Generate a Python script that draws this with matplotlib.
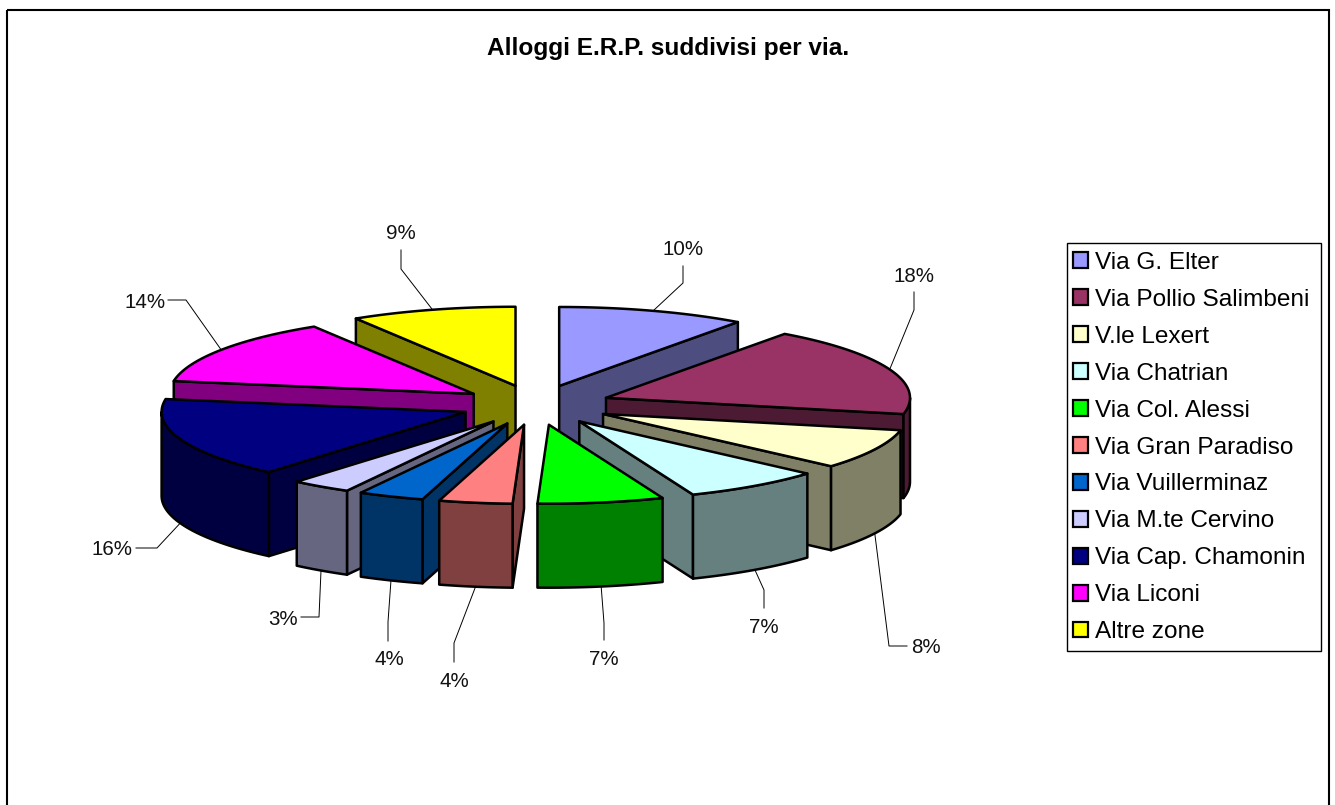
import numpy as np
import matplotlib
matplotlib.use("Agg")
import matplotlib.pyplot as plt
from matplotlib.patches import Patch, Polygon, Rectangle

plt.rcParams['font.family'] = ['Liberation Sans', 'DejaVu Sans']

# dati
zones = ["Via G. Elter", "Via Pollio Salimbeni", "V.le Lexert", "Via Chatrian",
         "Via Col. Alessi", "Via Gran Paradiso", "Via Vuillerminaz",
         "Via M.te Cervino", "Via Cap. Chamonin", "Via Liconi", "Altre zone"]
shares = [10.0, 18.3, 8.2, 7.4, 6.7, 3.9, 3.5, 3.2, 16.4, 13.6, 8.8]
colors = ["#9999FF", "#993366", "#FFFFCC", "#CCFFFF", "#00FF00", "#FF8080",
          "#0066CC", "#CCCCFF", "#000080", "#FF00FF", "#FFFF00"]

# layout (pixel): gomito della linea guida e centro etichetta
elbows = [(683, 283), (914, 310), (889, 646), (764, 590), (604, 623), (454, 643),
          (388, 622), (319, 617), (157, 548), (186, 300), (401, 269)]
ends = [(683, 266), (914, 292), (907, 646), (764, 608), (604, 640), (454, 662),
        (388, 641), (301, 617), (136, 548), (168, 300), (401, 250)]
label_pos = [(683, 248), (914, 275), (926, 646), (764, 626), (604, 658), (454, 680),
             (389, 658), (283, 618), (112, 548), (145, 301), (401, 232)]

cx, cy = 536, 405
rx, ry = 304, 79       # ellisse della torta
ex, ey = 75, 20        # esplosione
depth = 84


def darker(color):
    r, g, b = matplotlib.colors.to_rgb(color)
    return (r * 0.5, g * 0.5, b * 0.5)


def arc(ax0, ay0, a, b):
    t = np.radians(np.linspace(a, b, max(2, int(abs(b - a)) + 2)))
    return np.column_stack((ax0 + rx * np.sin(t), ay0 - ry * np.cos(t)))


def add_poly(ax, pts, color):
    ax.add_patch(Polygon(pts, closed=True, facecolor=color, edgecolor='black',
                         linewidth=1.8, joinstyle='round'))


def draw_slice(ax, a, b, color):
    mid = np.radians((a + b) / 2)
    x0 = cx + ex * np.sin(mid)
    y0 = cy - ey * np.cos(mid)
    side = darker(color)
    down = np.array([0, depth])
    # pareti radiali visibili
    for ang, visible in ((a, np.sin(np.radians(a)) < -1e-9), (b, np.sin(np.radians(b)) > 1e-9)):
        if visible:
            p = arc(x0, y0, ang, ang)[0]
            apex = np.array([x0, y0])
            add_poly(ax, [apex, p, p + down, apex + down], side)
    # parete esterna, solo la parte davanti
    lo, hi = max(a, 90), min(b, 270)
    if hi > lo:
        pts = arc(x0, y0, lo, hi)
        add_poly(ax, np.vstack((pts, (pts + down)[::-1])), side)
    # faccia superiore
    add_poly(ax, np.vstack(([x0, y0], arc(x0, y0, a, b))), color)


fig = plt.figure(figsize=(13.35, 8.05), dpi=100)
ax = fig.add_axes([0, 0, 1, 1])
ax.set_xlim(0, 1335)
ax.set_ylim(805, 0)
ax.axis('off')

# bordo del grafico (in basso e' tagliato)
ax.add_patch(Rectangle((7, 10), 1322, 900, fill=False, edgecolor='black', linewidth=1.5))

edges = np.concatenate(([0], np.cumsum(shares))) * 360 / sum(shares)
mids = (edges[:-1] + edges[1:]) / 2

# dal fondo verso il davanti
for i in np.argsort(-np.cos(np.radians(mids))):
    draw_slice(ax, edges[i], edges[i + 1], colors[i])

# linee guida ed etichette
for i, share in enumerate(shares):
    m = np.radians(mids[i])
    x0 = cx + ex * np.sin(m)
    y0 = cy - ey * np.cos(m)
    px = x0 + rx * np.sin(m)
    py = y0 - ry * np.cos(m)
    if np.cos(m) < 0:
        py += depth
    ax.plot([px, elbows[i][0], ends[i][0]], [py, elbows[i][1], ends[i][1]],
            color='black', linewidth=0.7)
    ax.text(label_pos[i][0], label_pos[i][1] + 1, f"{share:.0f}%", fontsize=14.8,
            ha='center', va='center', color='#111111')

ax.text(668, 49, "Alloggi E.R.P. suddivisi per via.", fontsize=17.6, fontweight='bold',
        ha='center', va='center')

# riquadro legenda disegnato a parte, i margini non sono uguali
ax.add_patch(Rectangle((1067, 243), 254, 408, facecolor='white', edgecolor='black', linewidth=1.0))
handles = [Patch(facecolor=c, edgecolor='black', linewidth=1.6) for c in colors]
leg = ax.legend(handles, zones, loc='upper left', bbox_to_anchor=(1073, 252),
                bbox_transform=ax.transData, borderaxespad=0, fontsize=17.6,
                frameon=False, handlelength=0.62, handleheight=0.62,
                handletextpad=0.3, labelspacing=0.61, borderpad=0)

fig.savefig("out.png", dpi=100)
